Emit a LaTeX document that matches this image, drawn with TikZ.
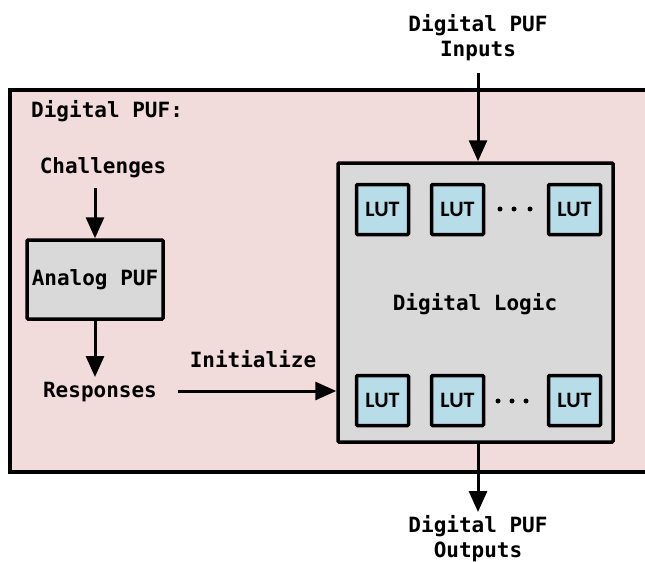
\documentclass[tikz,border=0pt]{standalone}
\usepackage{fontspec}
\setmonofont{DejaVu Sans Mono}
\newfontfamily\lutfont{Carlito}
\usetikzlibrary{arrows.meta}
\definecolor{pufpink}{HTML}{F2DCDB}
\definecolor{logicgray}{HTML}{D9D9D9}
\definecolor{lutblue}{HTML}{B7DEE8}
\tikzset{
  lblfont/.style={font=\ttfamily\bfseries\fontsize{21}{25}\selectfont},
  lbl/.style={lblfont, align=center, inner sep=0pt},
  blk/.style={draw=black, line width=3.5pt, fill=logicgray, rounded corners=1pt},
  lutbox/.style={draw=black, line width=3.5pt, fill=lutblue, minimum width=52pt, minimum height=50pt,
    font=\lutfont\bfseries\fontsize{22}{26}\selectfont, inner sep=0pt, rounded corners=1pt},
  flow/.style={line width=3pt, -{Triangle[length=21pt,width=18pt]}},
  dot/.style={fill=black}
}
\begin{document}
\begin{tikzpicture}[x=1pt,y=-1pt]
\useasboundingbox (0,0) rectangle (645,562);
% outer enclosure
\fill[pufpink] (10,90) rectangle (660,472);
\draw[line width=3.5pt] (660,90) -- (10,90) -- (10,472) -- (660,472);
\node[lbl, anchor=west] (title) at (31,111) {Digital PUF:};

% analog PUF chain
\node[lbl] (chal) at (103,168) {Challenges};
\node[blk, lblfont, minimum width=136pt, minimum height=79pt, inner sep=0pt] (apuf) at (95,279.5) {Analog PUF};
\node[lbl] (resp) at (100,392) {Responses};
\draw[flow] (95,188) -- (apuf.north);
\coordinate (respin) at (95,377);
\draw[flow] (apuf.south) -- (respin);

% digital logic block
\node[blk, minimum width=275pt, minimum height=279pt] (logic) at (475.5,302.5) {};
\node[lbl] (dl) at (475,304) {Digital Logic};
\node[lutbox] (t1) at (382.5,209.5) {LUT};
\node[lutbox] (t2) at (457.5,209.5) {LUT};
\node[lutbox] (t3) at (574.5,209.5) {LUT};
\node[lutbox] (b1) at (382.5,400.5) {LUT};
\node[lutbox] (b2) at (457.5,400.5) {LUT};
\node[lutbox] (b3) at (574.5,400.5) {LUT};
% ellipsis between the LUT columns
\foreach \x in {500,514,530}{\fill[dot] (\x,209) circle (2.5pt);}
\foreach \x in {498,512,526}{\fill[dot] (\x,401) circle (2.5pt);}

% initialize connection
\coordinate (rstart) at (178,391);
\draw[flow] (rstart) -- (logic.west |- rstart);
\node[lbl] (init) at (253,359) {Initialize};

% external I/O
\node[lbl] (inp) at (478,38) {Digital PUF\\Inputs};
\node[lbl] (outp) at (478,539) {Digital PUF\\Outputs};
\coordinate (intop) at (478,73);
\coordinate (outend) at (478,512);
\draw[flow] (intop) -- (logic.north -| intop);
\draw[flow] (logic.south -| outend) -- (outend);
\end{tikzpicture}
\end{document}
